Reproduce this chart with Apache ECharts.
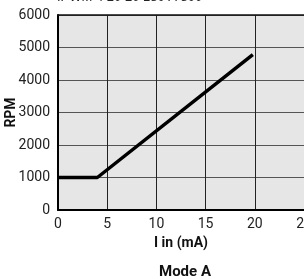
<!DOCTYPE html>
<html>
<head>
<meta charset="utf-8">
<script src="https://cdn.jsdelivr.net/npm/echarts@6/dist/echarts.min.js"></script>
<style>
  html, body { margin: 0; padding: 0; background: #fff; }
  #main { width: 304px; height: 279px; }
</style>
</head>
<body>
<div id="main"></div>
<script>
var myChart = echarts.init(document.getElementById('main'));

// current in (mA) vs motor speed (RPM)
var currentMA = [0, 4, 19.8];
var speedRPM = [1000, 1000, 4780];
var xTicks = [0, 5, 10, 15, 20, 25];
var yTicks = [0, 1000, 2000, 3000, 4000, 5000, 6000];

var fontFam = 'Roboto, sans-serif';

var points = currentMA.map(function (x, i) { return [x, speedRPM[i]]; });

var option = {
    backgroundColor: '#fff',
    animation: false,
    title: [{
        text: 'IPWM 4 20 20 180 A 800',
        left: 57,
        top: -9,
        padding: 0,
        textStyle: { fontSize: 13, fontWeight: 'normal', color: '#222', fontFamily: 'Liberation Sans, sans-serif' }
    }, {
        text: 'Mode A',
        left: 185,
        textAlign: 'center',
        top: 265,
        padding: 0,
        textStyle: { fontSize: 15, fontWeight: 'bold', color: '#111', fontFamily: fontFam }
    }],
    grid: {
        left: 58,
        right: 0,
        top: 15,
        bottom: 69,
        outerBoundsMode: 'none',
        containLabel: false,
        show: true,
        backgroundColor: '#e6e6e6',
        borderWidth: 0
    },
    xAxis: [{
        type: 'value',
        min: xTicks[0],
        max: xTicks[xTicks.length - 1],
        interval: 5,
        name: 'I in (mA)',
        nameLocation: 'middle',
        nameGap: 26,
        nameTextStyle: { fontSize: 14, fontWeight: 'bold', color: '#111', fontFamily: fontFam },
        axisLine: { show: true, lineStyle: { color: '#000', width: 2 } },
        axisTick: { show: false },
        axisLabel: { fontSize: 14, color: '#222', margin: 7, fontFamily: fontFam,
            formatter: function (v) { return String(v); } },
        splitLine: { show: true, lineStyle: { color: '#222', width: 1 } }
    }, {
        // top border of the plot
        type: 'value',
        position: 'top',
        min: xTicks[0],
        max: xTicks[xTicks.length - 1],
        interval: 5,
        axisLine: { show: true, lineStyle: { color: '#111', width: 1.5 } },
        axisTick: { show: false },
        axisLabel: { show: false },
        splitLine: { show: false }
    }],
    yAxis: {
        type: 'value',
        min: yTicks[0],
        max: yTicks[yTicks.length - 1],
        interval: 1000,
        name: 'RPM',
        nameLocation: 'middle',
        nameMoveOverlap: false,
        nameGap: 40,
        nameTextStyle: { fontSize: 14, fontWeight: 'bold', color: '#111', fontFamily: fontFam },
        axisLine: { show: true, lineStyle: { color: '#000', width: 2 } },
        axisTick: { show: false },
        axisLabel: { fontSize: 14, color: '#222', margin: 8, fontFamily: fontFam,
            formatter: function (v) { return String(v); } },
        splitLine: { show: true, lineStyle: { color: '#555', width: 1 } }
    },
    series: [{
        type: 'line',
        xAxisIndex: 0,
        data: points,
        symbol: 'none',
        lineStyle: { color: '#000', width: 3.5 }
    }]
};

myChart.setOption(option);
</script>
</body>
</html>
